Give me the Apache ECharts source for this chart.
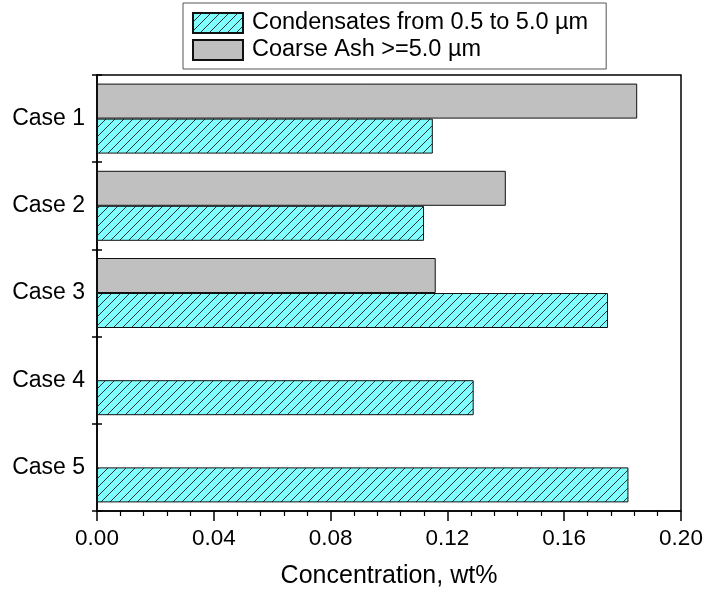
<!DOCTYPE html>
<html>
<head>
<meta charset="utf-8">
<script src="https://cdn.jsdelivr.net/npm/echarts@6/dist/echarts.min.js"></script>
<style>html,body{margin:0;padding:0;background:#fff}#c{width:710px;height:594px}</style>
</head>
<body>
<div id="c"></div>
<script>
const categories = ['Case 1', 'Case 2', 'Case 3', 'Case 4', 'Case 5'];
const condensates = [0.115, 0.112, 0.175, 0.129, 0.182];
const coarseAsh = [0.185, 0.140, 0.116, null, null];
const seriesNames = ['Condensates from 0.5 to 5.0 \u00b5m', 'Coarse Ash >=5.0 \u00b5m'];
const xTicks = [0, 0.04, 0.08, 0.12, 0.16, 0.20];

function hatch() {
  const s = 9;
  const c = document.createElement('canvas');
  c.width = s; c.height = s;
  const g = c.getContext('2d');
  g.fillStyle = '#80ffff';
  g.fillRect(0, 0, s, s);
  g.strokeStyle = '#1a1a1a';
  g.lineWidth = 0.9;
  g.beginPath();
  g.moveTo(-1, s + 1); g.lineTo(s + 1, -1);
  g.moveTo(-1, 1); g.lineTo(1, -1);
  g.moveTo(s - 1, s + 1); g.lineTo(s + 1, s - 1);
  g.stroke();
  return c;
}

const chart = echarts.init(document.getElementById('c'), null, {renderer: 'canvas'});
const font = 'Liberation Sans, Arial, sans-serif';
chart.setOption({
  animation: false,
  backgroundColor: '#fff',
  legend: {
    orient: 'vertical',
    left: 183, top: 3,
    data: seriesNames,
    icon: 'rect',
    itemWidth: 50, itemHeight: 20, itemGap: 3,
    padding: [8, 18, 7, 9],
    borderColor: '#555', borderWidth: 1, backgroundColor: '#fff',
    textStyle: {fontFamily: font, fontSize: 23.5, lineHeight: 24, color: '#000', padding: [0, 0, 0, 4]}
  },
  grid: {left: 97, right: 29, top: 75, bottom: 78, show: true, borderColor: '#000', borderWidth: 1.5, backgroundColor: 'transparent'},
  xAxis: {
    type: 'value', min: 0, max: 0.20, interval: 0.04,
    axisLine: {show: true, lineStyle: {color: '#000', width: 1.5}},
    axisTick: {show: true, inside: false, length: 10, lineStyle: {color: '#000', width: 1.5}},
    minorTick: {show: true, splitNumber: 5, length: 5, lineStyle: {color: '#000', width: 1.2}},
    splitLine: {show: false},
    axisLabel: {fontFamily: font, fontSize: 22.5, color: '#000', margin: 16, formatter: v => v.toFixed(2)},
    name: 'Concentration, wt%', nameLocation: 'middle', nameGap: 53,
    nameTextStyle: {fontFamily: font, fontSize: 25, color: '#000'}
  },
  yAxis: [{
    type: 'category', data: categories, inverse: true,
    axisLine: {show: true, lineStyle: {color: '#000', width: 1.5}},
    axisTick: {show: true, inside: false, length: 5, lineStyle: {color: '#000', width: 1.5}},
    axisLabel: {fontFamily: font, fontSize: 23, color: '#000', margin: 12},
    splitLine: {show: false}
  }, {
    type: 'category', data: categories, inverse: true, position: 'left',
    axisLine: {show: false},
    axisTick: {show: true, inside: true, length: 5, lineStyle: {color: '#000', width: 1.5}},
    axisLabel: {show: false},
    splitLine: {show: false}
  }],
  series: [{
    name: seriesNames[1], type: 'bar', data: coarseAsh, yAxisIndex: 0,
    barWidth: 35, barGap: '0%',
    itemStyle: {color: '#c0c0c0', borderColor: '#111', borderWidth: 1}
  }, {
    name: seriesNames[0], type: 'bar', data: condensates, yAxisIndex: 0,
    barWidth: 35, barGap: '0%',
    itemStyle: {color: {image: hatch(), repeat: 'repeat'}, borderColor: '#111', borderWidth: 1}
  }]
});
</script>
</body>
</html>
